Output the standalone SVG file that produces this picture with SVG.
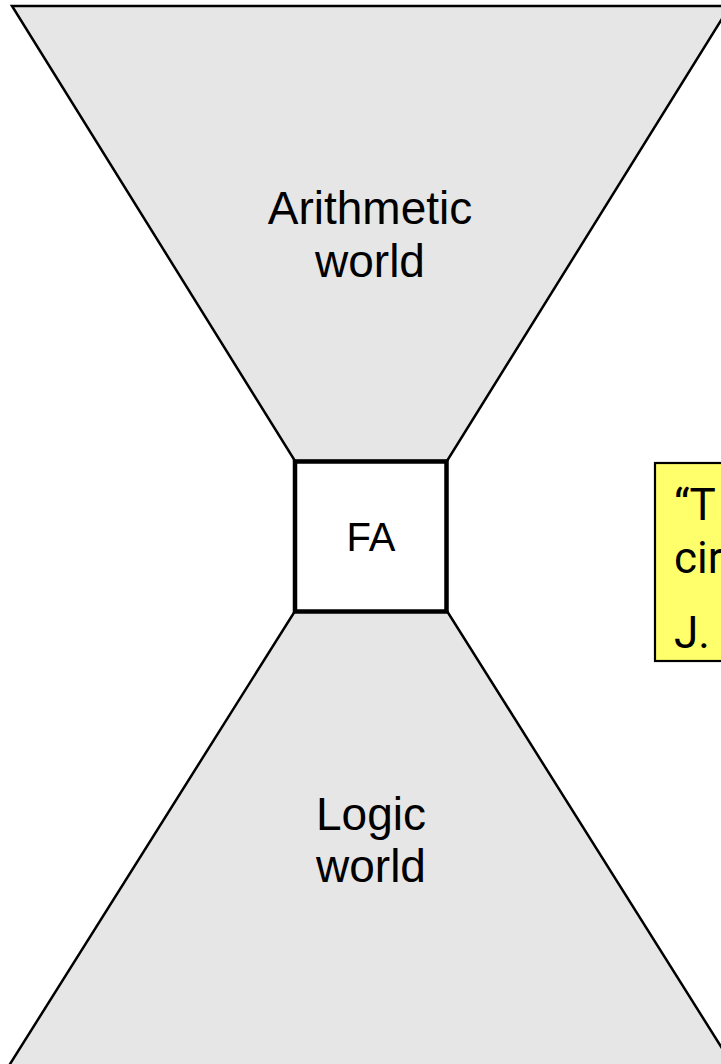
<svg xmlns="http://www.w3.org/2000/svg" width="721" height="1064" viewBox="0 0 721 1064">
  <style>
    .funnel { fill: #e6e6e6; stroke: #000; stroke-width: 2.5; stroke-linejoin: miter; }
    .label { font-family: "Liberation Sans", Arial, sans-serif; fill: #000; text-anchor: middle; }
    .big { font-size: 46px; }
    .box { fill: #fff; stroke: #000; stroke-width: 4.5; }
    .note { fill: #ffff6b; stroke: #000; stroke-width: 2.2; }
    .note-text { font-family: Roboto, "Liberation Sans", sans-serif; font-size: 44px; fill: #000; }
  </style>

  <!-- upper funnel: arithmetic -->
  <g id="arithmetic-world">
    <polygon class="funnel" points="12,6 730,6 447,461 295,461"/>
    <text class="label big" x="370" y="224">Arithmetic</text>
    <text class="label big" x="370" y="277">world</text>
  </g>

  <!-- lower funnel: logic -->
  <g id="logic-world">
    <polygon class="funnel" points="295,611 447,611 737,1072 5,1072"/>
    <text class="label big" x="371" y="830">Logic</text>
    <text class="label big" x="371" y="882">world</text>
  </g>

  <!-- full adder at the waist -->
  <g id="fa">
    <rect class="box" x="295" y="461.5" width="151.5" height="150"/>
    <text class="label" x="371" y="551" font-size="40">FA</text>
  </g>

  <!-- quotation callout, running off the right edge -->
  <g id="quote">
    <rect class="note" x="655" y="463" width="120" height="198"/>
    <text class="note-text" x="674" y="520">“T</text>
    <text class="note-text" x="674" y="573">cir</text>
    <text class="note-text" x="674" y="648">J.</text>
  </g>
</svg>
